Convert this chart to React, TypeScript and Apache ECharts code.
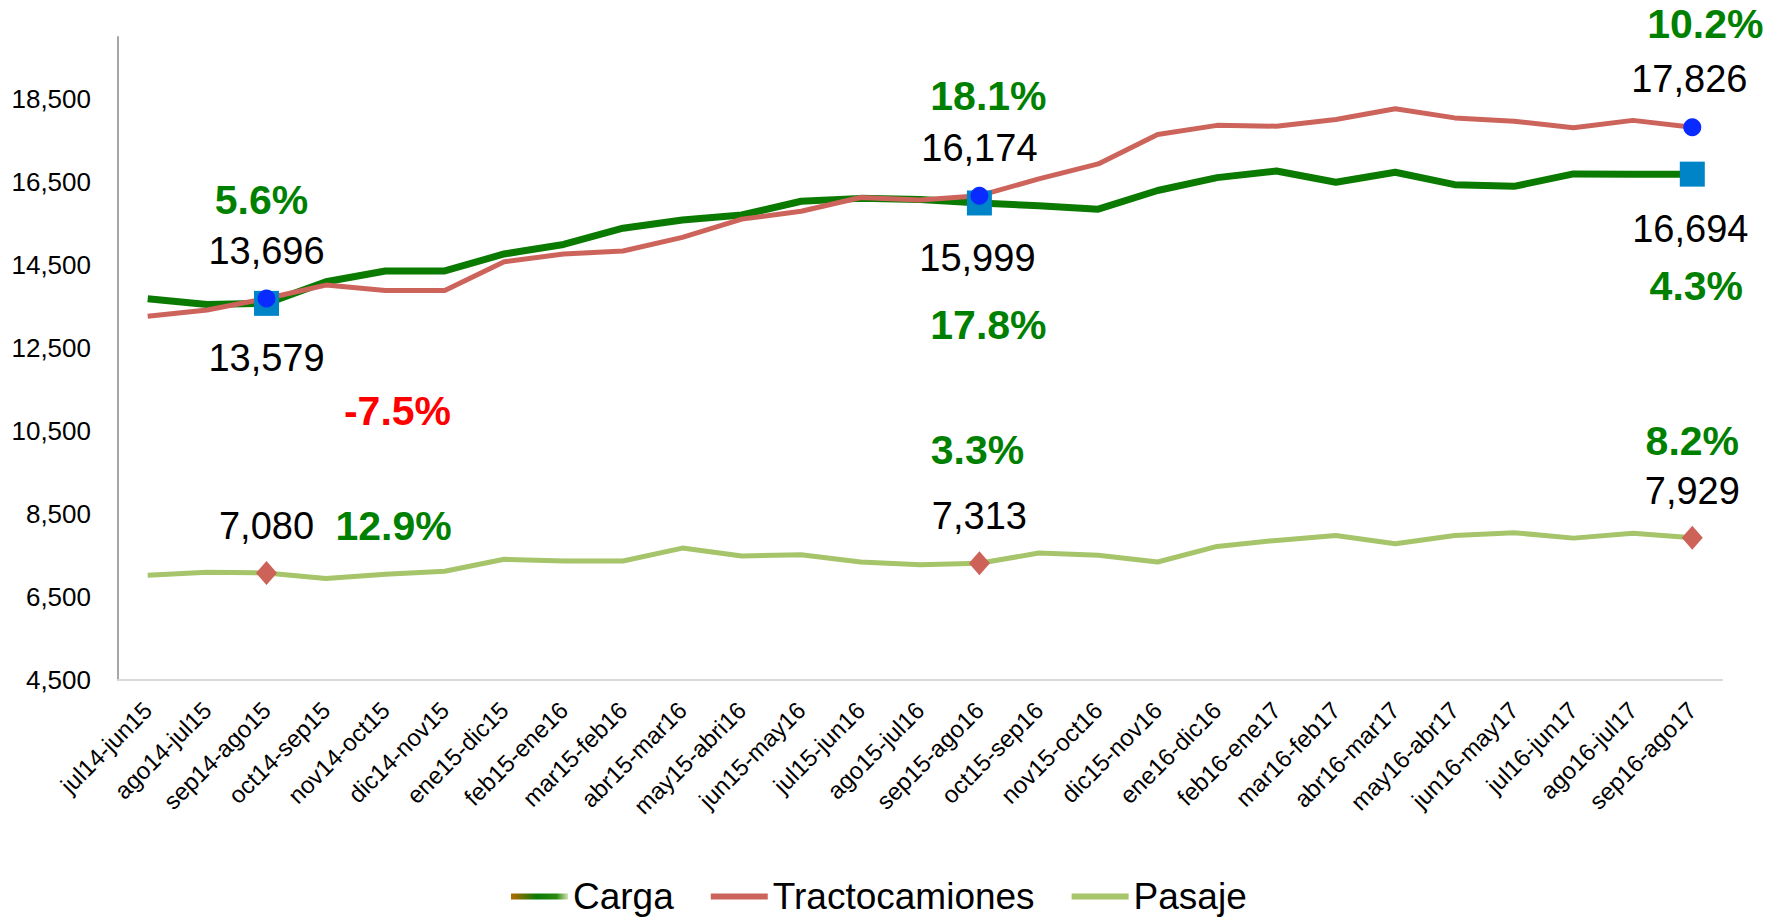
import React, { useEffect, useRef } from "react";
import * as echarts from "echarts";

const categories = [
  "jul14-jun15", "ago14-jul15", "sep14-ago15", "oct14-sep15", "nov14-oct15", "dic14-nov15",
  "ene15-dic15", "feb15-ene16", "mar15-feb16", "abr15-mar16", "may15-abri16", "jun15-may16",
  "jul15-jun16", "ago15-jul16", "sep15-ago16", "oct15-sep16", "nov15-oct16", "dic15-nov16",
  "ene16-dic16", "feb16-ene17", "mar16-feb17", "abr16-mar17", "may16-abr17", "jun16-may17",
  "jul16-jun17", "ago16-jul17", "sep16-ago17",
];

const carga = [
  13690, 13550, 13579, 14100, 14360, 14360, 14770, 15000, 15390, 15590, 15710, 16040,
  16110, 16080, 15999, 15930, 15850, 16300, 16610, 16770, 16500, 16740, 16440, 16400,
  16700, 16690, 16694,
];

const tractocamiones = [
  13270, 13420, 13696, 14020, 13890, 13890, 14580, 14770, 14840, 15170, 15610, 15800,
  16130, 16070, 16174, 16580, 16940, 17650, 17870, 17850, 18010, 18270, 18050, 17970,
  17810, 17990, 17826,
];

const pasaje = [
  7025, 7095, 7080, 6945, 7050, 7120, 7410, 7370, 7370, 7680, 7490, 7520,
  7345, 7280, 7313, 7560, 7505, 7345, 7720, 7865, 7985, 7785, 7985, 8050,
  7920, 8040, 7929,
];

const yTickLabels = [4500, 6500, 8500, 10500, 12500, 14500, 16500, 18500];
const highlightIdx = [2, 14, 26];

const pctTracto = ["5.6%", "18.1%", "10.2%"];
const pctCarga = ["-7.5%", "17.8%", "4.3%"];
const pctPasaje = ["12.9%", "3.3%", "8.2%"];

const FONT = "Liberation Sans";
const GREEN_TXT = "#008000";
const RED_TXT = "#FF0000";

const fmt = (v: number) => v.toLocaleString("en-US");

function annot(i: number, v: number, text: string, offset: number[], color: string, bold: boolean) {
  return {
    coord: [categories[i], v],
    symbol: "circle",
    symbolSize: 1,
    itemStyle: { color: "rgba(0,0,0,0)" },
    label: {
      show: true,
      position: "inside",
      offset,
      formatter: text,
      color,
      fontFamily: FONT,
      fontSize: bold ? 41 : 38,
      fontWeight: bold ? "bold" : "normal",
    },
  };
}

function marker(i: number, v: number, symbol: string, size: any, color: string) {
  return {
    coord: [categories[i], v],
    symbol,
    symbolSize: size,
    itemStyle: { color },
    label: { show: false },
  };
}

export default function App() {
  const ref = useRef<HTMLDivElement>(null);

  useEffect(() => {
    document.body.style.margin = "0";
    const chart = echarts.init(ref.current!, null, { renderer: "svg" });

    const tractoOffsets = [[-5, -99], [9, -100], [13, -103]];
    const cargaOffsets = [[131, 108], [9, 122], [4, 112]];
    const pasajeOffsets = [[127, -47], [-2, -113], [0, -97]];
    const cargaPctColors = [RED_TXT, GREEN_TXT, GREEN_TXT];

    const cargaMarks: any[] = [];
    const tractoMarks: any[] = [];
    const pasajeMarks: any[] = [];
    highlightIdx.forEach((i, k) => {
      cargaMarks.push(marker(i, carga[i], "rect", 25, "#0084C8"));
      cargaMarks.push(annot(i, carga[i], fmt(carga[i]), [k === 0 ? 0 : -2, 55], "#000", false));
      cargaMarks.push(annot(i, carga[i], pctCarga[k], cargaOffsets[k], cargaPctColors[k], true));

      tractoMarks.push(marker(i, tractocamiones[i], "circle", 18, "#0A2BFF"));
      tractoMarks.push(annot(i, tractocamiones[i], fmt(tractocamiones[i]), [k === 2 ? -3 : 0, -48], "#000", false));
      tractoMarks.push(annot(i, tractocamiones[i], pctTracto[k], tractoOffsets[k], GREEN_TXT, true));

      pasajeMarks.push(marker(i, pasaje[i], "diamond", [21, 24], "#CD6259"));
      pasajeMarks.push(annot(i, pasaje[i], fmt(pasaje[i]), [0, -47], "#000", false));
      pasajeMarks.push(annot(i, pasaje[i], pctPasaje[k], pasajeOffsets[k], GREEN_TXT, true));
    });

    const cargaGradient = new echarts.graphic.LinearGradient(0, 0, 1, 0, [
      { offset: 0, color: "#B86A00" },
      { offset: 0.45, color: "#0A7A00" },
      { offset: 0.8, color: "#2A8A10" },
      { offset: 1, color: "#D8E0B8" },
    ]);

    chart.setOption({
      animation: false,
      backgroundColor: "#ffffff",
      textStyle: { fontFamily: FONT },
      grid: { left: 118, right: 55, top: 37, bottom: 240, containLabel: false, outerBoundsMode: "none" },
      legend: {
        left: 506,
        top: 873,
        itemWidth: 57,
        itemHeight: 6,
        itemGap: 37,
        icon: "rect",
        itemStyle: { borderWidth: 0 },
        textStyle: { fontSize: 37, color: "#000", fontFamily: FONT },
        data: [
          { name: "Carga", itemStyle: { color: cargaGradient, borderWidth: 0 } },
          { name: "Tractocamiones" },
          { name: "Pasaje" },
        ],
      },
      xAxis: {
        type: "category",
        data: categories,
        boundaryGap: true,
        axisLine: { show: true, lineStyle: { color: "#D9D9D9", width: 2 } },
        axisTick: { show: false },
        splitLine: { show: false },
        axisLabel: {
          interval: 0,
          rotate: 45,
          margin: 26,
          fontSize: 24,
          color: "#000",
          fontFamily: FONT,
        },
      },
      yAxis: {
        type: "value",
        min: 4500,
        max: 20000,
        interval: 500,
        axisLine: { show: true, lineStyle: { color: "#A6A6A6", width: 2 } },
        axisTick: { show: false },
        splitLine: { show: false },
        axisLabel: {
          margin: 27,
          fontSize: 26,
          color: "#000",
          fontFamily: FONT,
          formatter: (v: number) => (yTickLabels.indexOf(v) >= 0 ? fmt(v) : ""),
        },
      },
      series: [
        {
          name: "Carga",
          type: "line",
          data: carga,
          symbol: "none",
          showSymbol: false,
          color: "#0A7A00",
          itemStyle: { color: "#0A7A00" },
          lineStyle: { color: "#0A7A00", width: 7 },
          markPoint: { animation: false, silent: true, data: cargaMarks },
          z: 2,
        },
        {
          name: "Tractocamiones",
          type: "line",
          data: tractocamiones,
          symbol: "none",
          showSymbol: false,
          color: "#CD645C",
          itemStyle: { color: "#CD645C" },
          lineStyle: { color: "#CD645C", width: 5 },
          markPoint: { animation: false, silent: true, data: tractoMarks },
          z: 3,
        },
        {
          name: "Pasaje",
          type: "line",
          data: pasaje,
          symbol: "none",
          showSymbol: false,
          color: "#A6C46A",
          itemStyle: { color: "#A6C46A" },
          lineStyle: { color: "#A6C46A", width: 5 },
          markPoint: { animation: false, silent: true, data: pasajeMarks },
          z: 2,
        },
      ],
    });

    return () => chart.dispose();
  }, []);

  return (
    <div
      ref={ref}
      style={{ position: "fixed", left: 0, top: 0, width: 1777, height: 920, background: "#fff" }}
    />
  );
}
